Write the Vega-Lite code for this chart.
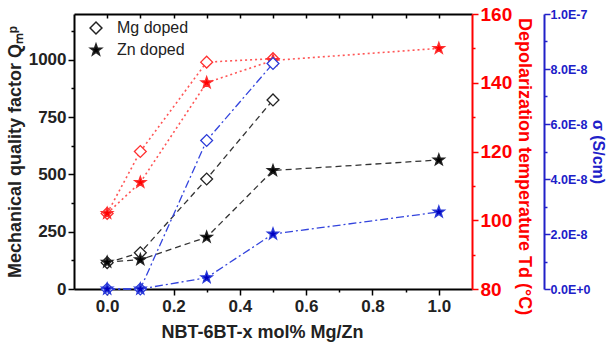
{
  "$schema": "https://vega.github.io/schema/vega-lite/v6.json",
  "width": 398,
  "height": 275,
  "autosize": "none",
  "padding": {"left": 74, "top": 14, "right": 138, "bottom": 60},
  "background": "white",
  "config": {
    "font": "Liberation Sans",
    "view": {"stroke": null},
    "axis": {"grid": false, "labelFont": "Liberation Sans", "titleFont": "Liberation Sans", "labelFontWeight": "bold", "titleFontWeight": "bold"}
  },
  "data": {
    "values": [
      {"x": 0.0, "dopant": "Mg doped", "prop": "Q", "value": 115},
      {"x": 0.1, "dopant": "Mg doped", "prop": "Q", "value": 158},
      {"x": 0.3, "dopant": "Mg doped", "prop": "Q", "value": 480},
      {"x": 0.5, "dopant": "Mg doped", "prop": "Q", "value": 825},
      {"x": 0.0, "dopant": "Zn doped", "prop": "Q", "value": 117},
      {"x": 0.1, "dopant": "Zn doped", "prop": "Q", "value": 128},
      {"x": 0.3, "dopant": "Zn doped", "prop": "Q", "value": 226},
      {"x": 0.5, "dopant": "Zn doped", "prop": "Q", "value": 517},
      {"x": 1.0, "dopant": "Zn doped", "prop": "Q", "value": 563},
      {"x": 0.0, "dopant": "Mg doped", "prop": "Td", "value": 102},
      {"x": 0.1, "dopant": "Mg doped", "prop": "Td", "value": 120},
      {"x": 0.3, "dopant": "Mg doped", "prop": "Td", "value": 146},
      {"x": 0.5, "dopant": "Mg doped", "prop": "Td", "value": 147},
      {"x": 0.0, "dopant": "Zn doped", "prop": "Td", "value": 102},
      {"x": 0.1, "dopant": "Zn doped", "prop": "Td", "value": 111},
      {"x": 0.3, "dopant": "Zn doped", "prop": "Td", "value": 140},
      {"x": 0.5, "dopant": "Zn doped", "prop": "Td", "value": 146.5},
      {"x": 1.0, "dopant": "Zn doped", "prop": "Td", "value": 150},
      {"x": 0.0, "dopant": "Mg doped", "prop": "sigma", "value": 0},
      {"x": 0.1, "dopant": "Mg doped", "prop": "sigma", "value": 0},
      {"x": 0.3, "dopant": "Mg doped", "prop": "sigma", "value": 5.4e-8},
      {"x": 0.5, "dopant": "Mg doped", "prop": "sigma", "value": 8.2e-8},
      {"x": 0.0, "dopant": "Zn doped", "prop": "sigma", "value": 0},
      {"x": 0.1, "dopant": "Zn doped", "prop": "sigma", "value": 0},
      {"x": 0.3, "dopant": "Zn doped", "prop": "sigma", "value": 4.1e-9},
      {"x": 0.5, "dopant": "Zn doped", "prop": "sigma", "value": 2.0e-8},
      {"x": 1.0, "dopant": "Zn doped", "prop": "sigma", "value": 2.8e-8}
    ]
  },
  "layer": [
    {
      "transform": [{"filter": "datum.prop === 'Q'"}],
      "mark": {"type": "line", "stroke": "#333333", "strokeDash": [6, 4], "strokeWidth": 1.3},
      "encoding": {
        "x": {"field": "x", "type": "quantitative", "scale": {"domain": [-0.1, 1.1], "nice": false, "zero": false},
          "axis": {"orient": "bottom", "values": [0, 0.1, 0.2, 0.3, 0.4, 0.5, 0.6, 0.7, 0.8, 0.9, 1.0], "format": ".1f",
            "labelExpr": "round(datum.value*10) % 2 === 0 ? datum.label : ''",
            "tickSize": {"condition": {"test": "round(datum.value*10) % 2 === 0", "value": 6}, "value": 3},
            "domainColor": "black", "domainWidth": 2, "tickColor": "black", "tickWidth": 1.5,
            "labelColor": "#222222", "labelFontSize": 17, "labelPadding": 3,
            "title": "NBT-6BT-x mol% Mg/Zn", "titleFontSize": 18, "titleColor": "#222222", "titlePadding": 9, "titleX": 188}},
        "y": {"field": "value", "type": "quantitative", "scale": {"domain": [0, 1200], "nice": false},
          "axis": {"orient": "left", "values": [0, 125, 250, 375, 500, 625, 750, 875, 1000, 1125], "format": "d",
            "labelExpr": "datum.value % 250 === 0 ? datum.label : ''",
            "tickSize": {"condition": {"test": "datum.value % 250 === 0", "value": 6}, "value": 3},
            "domainColor": "black", "domainWidth": 2, "tickColor": "black", "tickWidth": 1.5,
            "labelColor": "#222222", "labelFontSize": 17, "labelPadding": 2,
            "title": "Mechanical quality factor Qₘᵖ", "titleFontSize": 18, "titleColor": "#222222", "titlePadding": 4}},
        "detail": {"field": "dopant"}
      }
    },
    {
      "transform": [{"filter": "datum.prop === 'Td'"}],
      "mark": {"type": "line", "stroke": "#ff5555", "strokeDash": [2, 3], "strokeWidth": 1.6},
      "encoding": {
        "x": {"field": "x", "type": "quantitative", "scale": {"domain": [-0.1, 1.1], "nice": false, "zero": false},
          "axis": {"orient": "top", "values": [0, 0.1, 0.2, 0.3, 0.4, 0.5, 0.6, 0.7, 0.8, 0.9, 1.0], "labels": false, "title": null,
            "tickSize": -4, "domainColor": "black", "domainWidth": 2, "tickColor": "black", "tickWidth": 1.5}},
        "y": {"field": "value", "type": "quantitative", "scale": {"domain": [80, 160], "nice": false, "zero": false},
          "axis": {"orient": "right", "values": [80, 90, 100, 110, 120, 130, 140, 150, 160],
            "labelExpr": "datum.value % 20 === 0 ? datum.label : ''",
            "tickSize": {"condition": {"test": "datum.value % 20 === 0", "value": 6}, "value": 3},
            "domainColor": "#ff0000", "domainWidth": 2, "tickColor": "#ff0000", "tickWidth": 1.5,
            "labelColor": "#ff0000", "labelFontSize": 19, "labelPadding": 2,
            "title": "Depolarization temperature Td (°C)", "titleFontSize": 18, "titleColor": "#ff0000", "titlePadding": 3, "titleY": 152}},
        "detail": {"field": "dopant"}
      }
    },
    {
      "transform": [{"filter": "datum.prop === 'sigma'"}],
      "mark": {"type": "line", "stroke": "#3344dd", "strokeDash": [8, 3, 2, 3], "strokeWidth": 1.3},
      "encoding": {
        "x": {"field": "x", "type": "quantitative", "scale": {"domain": [-0.1, 1.1], "nice": false, "zero": false}, "axis": null},
        "y": {"field": "value", "type": "quantitative", "scale": {"domain": [0, 1e-7], "nice": false},
          "axis": {"orient": "right", "offset": 72, "values": [0, 1e-8, 2e-8, 3e-8, 4e-8, 5e-8, 6e-8, 7e-8, 8e-8, 9e-8, 1e-7],
            "labelExpr": "round(datum.value*1e8) % 2 !== 0 ? '' : (datum.value < 1e-12 ? '0.0E+0' : (round(datum.value*1e8) === 10 ? '1.0E-7' : format(datum.value*1e8, '.1f') + 'E-8'))",
            "tickSize": {"condition": {"test": "round(datum.value*1e8) % 2 === 0", "value": 6}, "value": 3},
            "domainColor": "#2020c8", "domainWidth": 2, "tickColor": "#2020c8", "tickWidth": 1.5,
            "labelColor": "#2020c8", "labelFontSize": 12.5, "labelPadding": 0,
            "title": "σ (S/cm)", "titleFontSize": 16, "titleColor": "#2020c8", "titlePadding": 0}},
        "detail": {"field": "dopant"}
      }
    },
    {
      "transform": [{"filter": "datum.prop === 'Q'"}],
      "mark": {"type": "point", "stroke": "#222222", "strokeWidth": 1.3, "size": 140, "opacity": 1},
      "encoding": {
        "x": {"field": "x", "type": "quantitative", "scale": {"domain": [-0.1, 1.1], "nice": false, "zero": false}, "axis": null},
        "y": {"field": "value", "type": "quantitative", "scale": {"domain": [0, 1200], "nice": false}, "axis": null},
        "shape": {"field": "dopant", "type": "nominal", "scale": {"domain": ["Mg doped", "Zn doped"], "range": ["diamond", "M0,-1L0.235,-0.324L0.951,-0.309L0.38,0.124L0.588,0.809L0,0.4L-0.588,0.809L-0.38,0.124L-0.951,-0.309L-0.235,-0.324Z"]},
          "legend": {"title": null, "orient": "none", "legendX": 14, "legendY": 6, "labelFontSize": 16, "labelColor": "#222222", "labelFont": "Liberation Sans", "symbolSize": 140, "labelOffset": 13, "rowPadding": 4,
            "encode": {"symbols": {"update": {"stroke": {"value": "#222222"}, "strokeWidth": {"value": 1.3}}}}}},
        "fill": {"field": "dopant", "type": "nominal", "scale": {"domain": ["Mg doped", "Zn doped"], "range": ["white", "black"]},
          "legend": {"title": null, "orient": "none", "legendX": 14, "legendY": 6, "labelFontSize": 16, "labelColor": "#222222", "labelFont": "Liberation Sans", "symbolSize": 140, "labelOffset": 13, "rowPadding": 4,
            "encode": {"symbols": {"update": {"stroke": {"value": "#222222"}, "strokeWidth": {"value": 1.3}}}}}}
      }
    },
    {
      "transform": [{"filter": "datum.prop === 'Td'"}],
      "mark": {"type": "point", "stroke": "#ff3030", "strokeWidth": 1.3, "size": 140, "opacity": 1},
      "encoding": {
        "x": {"field": "x", "type": "quantitative", "scale": {"domain": [-0.1, 1.1], "nice": false, "zero": false}, "axis": null},
        "y": {"field": "value", "type": "quantitative", "scale": {"domain": [80, 160], "nice": false, "zero": false}, "axis": null},
        "shape": {"field": "dopant", "type": "nominal", "scale": {"domain": ["Mg doped", "Zn doped"], "range": ["diamond", "M0,-1L0.235,-0.324L0.951,-0.309L0.38,0.124L0.588,0.809L0,0.4L-0.588,0.809L-0.38,0.124L-0.951,-0.309L-0.235,-0.324Z"]}, "legend": null},
        "fill": {"field": "dopant", "type": "nominal", "scale": {"domain": ["Mg doped", "Zn doped"], "range": ["white", "#ff0000"]}, "legend": null}
      }
    },
    {
      "transform": [{"filter": "datum.prop === 'sigma'"}],
      "mark": {"type": "point", "stroke": "#2a3ad8", "strokeWidth": 1.3, "size": 140, "opacity": 1},
      "encoding": {
        "x": {"field": "x", "type": "quantitative", "scale": {"domain": [-0.1, 1.1], "nice": false, "zero": false}, "axis": null},
        "y": {"field": "value", "type": "quantitative", "scale": {"domain": [0, 1e-7], "nice": false}, "axis": null},
        "shape": {"field": "dopant", "type": "nominal", "scale": {"domain": ["Mg doped", "Zn doped"], "range": ["diamond", "M0,-1L0.235,-0.324L0.951,-0.309L0.38,0.124L0.588,0.809L0,0.4L-0.588,0.809L-0.38,0.124L-0.951,-0.309L-0.235,-0.324Z"]}, "legend": null},
        "fill": {"field": "dopant", "type": "nominal", "scale": {"domain": ["Mg doped", "Zn doped"], "range": ["white", "#0000c0"]}, "legend": null}
      }
    }
  ],
  "resolve": {"scale": {"x": "independent", "y": "independent", "shape": "independent", "fill": "independent"}}
}
